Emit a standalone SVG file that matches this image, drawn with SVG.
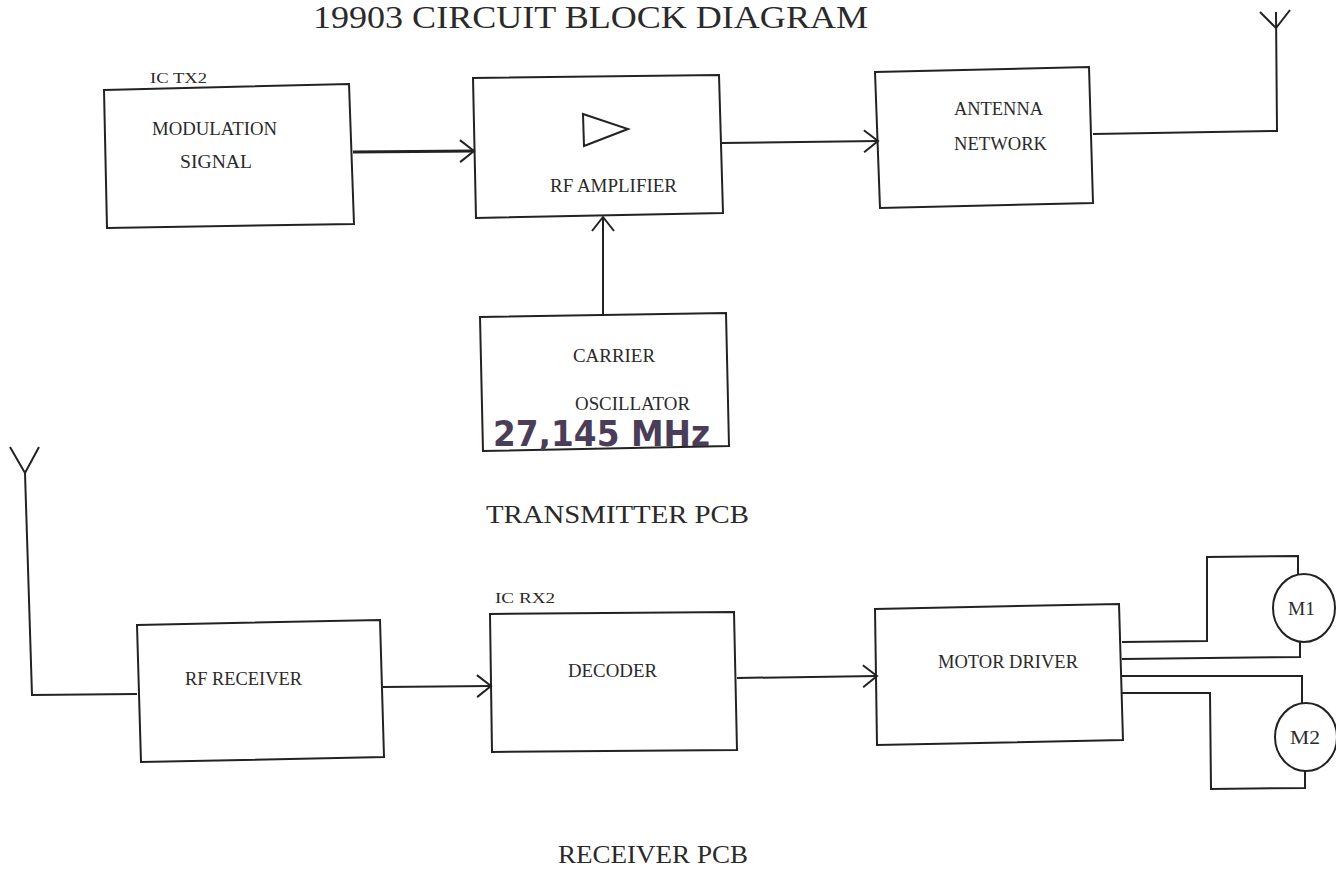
<svg xmlns="http://www.w3.org/2000/svg" width="1336" height="870" viewBox="0 0 1336 870">
<style>
.box{fill:none;stroke:#222;stroke-width:2}
.ln{fill:none;stroke:#222;stroke-width:2}
.t{font-family:"Liberation Serif",serif;fill:#2a2a2a;font-size:18px}
.s{font-family:"Liberation Serif",serif;fill:#2a2a2a;font-size:15px}
.h{font-family:"Liberation Serif",serif;fill:#2a2a2a;font-size:26px}
.ttl{font-family:"Liberation Serif",serif;fill:#2a2a2a;font-size:32px}
.hw{font-family:"DejaVu Sans",sans-serif;fill:#4a3d58;font-size:36px;font-weight:bold}
</style>
<defs>
<marker id="arr" markerUnits="userSpaceOnUse" markerWidth="20" markerHeight="24" refX="16" refY="12" orient="auto">
<path d="M2,1 L16,12 L2,23" fill="none" stroke="#222" stroke-width="2"/>
</marker>
</defs>
<rect width="1336" height="870" fill="#fff"/>
<text class="ttl" x="313" y="28" textLength="555" lengthAdjust="spacingAndGlyphs">19903 CIRCUIT  BLOCK  DIAGRAM</text>

<g id="modulation">
<path class="box" d="M104,90 L349,84 L354,224 L107,228 Z"/>
<text class="s" x="150" y="83" textLength="57" lengthAdjust="spacingAndGlyphs">IC TX2</text>
<text class="t" x="152" y="135" textLength="125" lengthAdjust="spacingAndGlyphs">MODULATION</text>
<text class="t" x="180" y="168" textLength="72" lengthAdjust="spacingAndGlyphs">SIGNAL</text>
</g>

<g id="rf_amplifier">
<path class="box" d="M473,78 L719,75 L723,213 L476,218 Z"/>
<path class="ln" d="M583,114 L628,129 L584,146 Z"/>
<text class="t" x="550" y="192" textLength="127" lengthAdjust="spacingAndGlyphs">RF AMPLIFIER</text>
</g>

<g id="antenna_network">
<path class="box" d="M875,72 L1089,67 L1093,203 L880,208 Z"/>
<text class="t" x="954" y="115" textLength="89" lengthAdjust="spacingAndGlyphs">ANTENNA</text>
<text class="t" x="954" y="150" textLength="93" lengthAdjust="spacingAndGlyphs">NETWORK</text>
</g>

<g id="carrier_oscillator">
<path class="box" d="M480,317 L726,313 L729,446 L483,451 Z"/>
<text class="t" x="573" y="362" textLength="82" lengthAdjust="spacingAndGlyphs">CARRIER</text>
<text class="t" x="575" y="410" textLength="115" lengthAdjust="spacingAndGlyphs">OSCILLATOR</text>
<text class="hw" x="493" y="446" textLength="217" lengthAdjust="spacingAndGlyphs">27,145 MHz</text>
</g>

<text class="h" x="486" y="523" textLength="263" lengthAdjust="spacingAndGlyphs">TRANSMITTER PCB</text>

<g id="rf_receiver">
<path class="box" d="M137,625 L380,620 L384,757 L141,762 Z"/>
<text class="t" x="185" y="685" textLength="117" lengthAdjust="spacingAndGlyphs">RF RECEIVER</text>
</g>

<g id="decoder">
<path class="box" d="M490,614 L734,612 L737,750 L492,752 Z"/>
<text class="s" x="495" y="603" textLength="60" lengthAdjust="spacingAndGlyphs">IC RX2</text>
<text class="t" x="568" y="677" textLength="89" lengthAdjust="spacingAndGlyphs">DECODER</text>
</g>

<g id="motor_driver">
<path class="box" d="M875,609 L1119,604 L1123,740 L877,745 Z"/>
<text class="t" x="938" y="668" textLength="140" lengthAdjust="spacingAndGlyphs">MOTOR DRIVER</text>
</g>

<g id="m1">
<ellipse class="box" cx="1304" cy="608" rx="31" ry="34"/>
<text class="t" x="1288" y="615" textLength="27" lengthAdjust="spacingAndGlyphs">M1</text>
</g>

<g id="m2">
<ellipse class="box" cx="1306" cy="737" rx="31" ry="34"/>
<text class="t" x="1290" y="744" textLength="30" lengthAdjust="spacingAndGlyphs">M2</text>
</g>

<g id="connectors">
<line class="ln" x1="353" y1="152" x2="474" y2="151" marker-end="url(#arr)" style="stroke-width:3"/>
<line class="ln" x1="722" y1="143" x2="878" y2="141" marker-end="url(#arr)"/>
<line class="ln" x1="603" y1="316" x2="603" y2="217" marker-end="url(#arr)"/>
<polyline class="ln" points="1093,134 1277,131 1276,12"/>
<polyline class="ln" points="1260,12 1276,28 1290,10"/>
<polyline class="ln" points="10,447 25,473 39,447"/>
<polyline class="ln" points="25,473 32,695 137,694"/>
<line class="ln" x1="383" y1="687" x2="491" y2="686" marker-end="url(#arr)"/>
<line class="ln" x1="737" y1="678" x2="877" y2="676" marker-end="url(#arr)"/>
<polyline class="ln" points="1122,642 1207,641 1207,557 1298,556 1298,574"/>
<polyline class="ln" points="1122,659 1300,657 1300,642"/>
<polyline class="ln" points="1122,676 1302,676 1302,703"/>
<polyline class="ln" points="1122,693 1210,693 1211,789 1305,788 1305,771"/>
</g>

<text class="h" x="558" y="863" textLength="190" lengthAdjust="spacingAndGlyphs">RECEIVER PCB</text>
</svg>
